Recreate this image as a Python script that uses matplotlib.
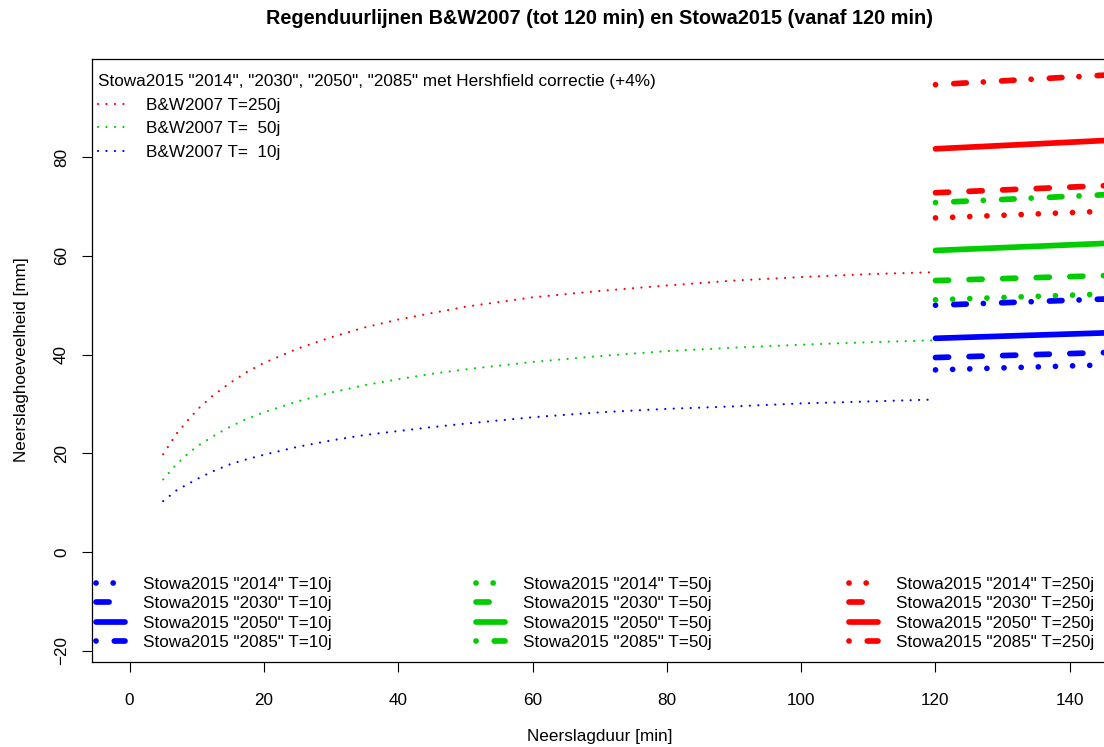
import matplotlib.pyplot as plt
from matplotlib.lines import Line2D

plt.rcParams['font.family'] = ['Liberation Sans', 'DejaVu Sans']

# B&W2007 regenduurlijnen (tot 120 min)
bw_duur = [5, 7, 9, 10.5, 12.5, 15, 17.5, 20, 25, 30, 35, 40, 45, 50,
           60, 70, 80, 90, 100, 110, 120]
bw_t250 = [19.8, 24.0, 27.2, 29.4, 31.8, 34.3, 36.5, 38.3, 41.2, 43.5, 45.5,
           47.1, 48.4, 49.7, 51.6, 52.9, 54.0, 55.0, 55.7, 56.3, 56.7]
bw_t50 = [14.7, 17.8, 20.3, 21.8, 23.5, 25.4, 27.0, 28.3, 30.5, 32.3, 33.8,
          35.0, 36.1, 37.0, 38.5, 39.7, 40.7, 41.4, 42.0, 42.5, 42.9]
bw_t10 = [10.3, 12.5, 14.0, 15.1, 16.4, 17.8, 18.8, 19.7, 21.3, 22.6, 23.7,
          24.5, 25.3, 26.0, 27.3, 28.3, 29.0, 29.5, 30.1, 30.5, 30.9]

# Stowa2015 (vanaf 120 min), begin en eind van het zichtbare stuk
stowa_duur = [120, 150]
stowa_t10 = {"2014": [36.9, 38.1], "2030": [39.4, 40.6],
             "2050": [43.3, 44.6], "2085": [50.0, 51.5]}
stowa_t50 = {"2014": [51.1, 52.5], "2030": [55.0, 56.2],
             "2050": [61.1, 62.8], "2085": [70.8, 72.7]}
stowa_t250 = {"2014": [67.7, 69.3], "2030": [72.8, 74.5],
              "2050": [81.7, 83.7], "2085": [94.7, 97.0]}

scenarios = ["2014", "2030", "2050", "2085"]
stijl = {"2014": (0, (0.01, 3.0)),
         "2030": (0, (2.3, 3.6)),
         "2050": '-',
         "2085": (0, (0.01, 3.2, 2.2, 3.0))}

RED, GREEN, BLUE = '#FF0000', '#00CD00', '#0000FF'
FS = 12.3
LW = 4.1
W, H = 1104, 747

fig = plt.figure(figsize=(W / 100, H / 100), dpi=100)
ax = fig.add_axes([92 / W, 1 - 662 / H, (1107.4 - 92) / W, (662 - 59) / H])

# B&W2007 - dun gestippeld
for vals, kleur in [(bw_t250, RED), (bw_t50, GREEN), (bw_t10, BLUE)]:
    ax.plot(bw_duur, vals, color=kleur, lw=1.6, linestyle=(0, (0.01, 3.8)),
            dash_capstyle='round')

# Stowa2015 - dikke lijnen
stowa_sets = [(stowa_t10, BLUE, "10j"), (stowa_t50, GREEN, "50j"),
              (stowa_t250, RED, "250j")]
for data, kleur, _ in stowa_sets:
    for sc in scenarios:
        ax.plot(stowa_duur, data[sc], color=kleur, lw=LW, linestyle=stijl[sc],
                dash_capstyle='round', solid_capstyle='round')

ax.set_xlim(-5.6, 145.6)
ax.set_ylim(-22.3, 99.9)
ax.set_xticks(range(0, 141, 20))
ax.set_yticks(range(-20, 81, 20))
ax.tick_params(direction='out', length=7.5, width=0.8, labelsize=FS)
ax.tick_params(axis='x', pad=14.5)
ax.tick_params(axis='y', pad=9)
for lab in ax.get_yticklabels():
    lab.set_rotation(90)
    lab.set_va('center')
for sp in ax.spines.values():
    sp.set_linewidth(0.9)

fig.text(600 / W, 1 - 18 / H,
         'Regenduurlijnen B&W2007 (tot 120 min) en Stowa2015 (vanaf 120 min)',
         ha='center', va='center', fontsize=14.3, fontweight='bold')
fig.text(600 / W, 1 - 737 / H, 'Neerslagduur [min]', ha='center', va='center',
         fontsize=FS)
fig.text(22 / W, 1 - 360 / H, 'Neerslaghoeveelheid [mm]', ha='center',
         va='center', rotation=90, fontsize=FS)

# legenda linksboven
bw_handles = [Line2D([], [], color=k, lw=1.6, linestyle=(0, (0.01, 3.8)),
                     dash_capstyle='round') for k in (RED, GREEN, BLUE)]
fig.legend(bw_handles, ['B&W2007 T=250j', 'B&W2007 T=  50j', 'B&W2007 T=  10j'],
           title='Stowa2015 "2014", "2030", "2050", "2085" met Hershfield correctie (+4%)',
           loc='upper left', bbox_to_anchor=(98 / W, 1 - 74 / H),
           frameon=False, alignment='left',
           fontsize=FS, title_fontsize=FS, handlelength=1.6,
           handletextpad=1.21, labelspacing=0.5, borderpad=0,
           borderaxespad=0)

# legenda onderaan, een kolom per herhalingstijd
kolom_x = [95.5, 475.5, 848.5]
for (data, kleur, t), x0 in zip(stowa_sets, kolom_x):
    handles = [Line2D([], [], color=kleur, lw=LW, linestyle=stijl[sc],
                      dash_capstyle='round', solid_capstyle='round')
               for sc in scenarios]
    labels = [f'Stowa2015 "{sc}" T={t}' for sc in scenarios]
    fig.legend(handles, labels, loc='lower left',
               bbox_to_anchor=(x0 / W, 1 - 650 / H),
               frameon=False, fontsize=FS,
               handlelength=1.75, handletextpad=1.02, labelspacing=0.25,
               borderpad=0, borderaxespad=0)

fig.savefig('out.png', dpi=100)
